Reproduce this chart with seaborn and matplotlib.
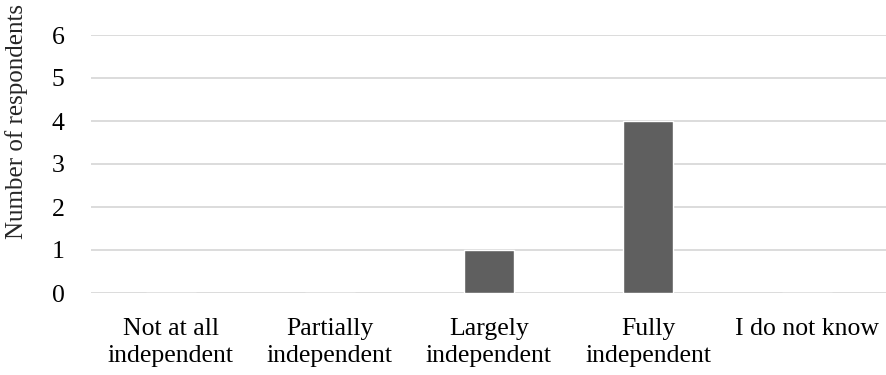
import pandas as pd
import matplotlib
matplotlib.use("Agg")
import matplotlib.pyplot as plt
import seaborn as sns

categories = ["Not at all\nindependent", "Partially\nindependent", "Largely\nindependent",
              "Fully\nindependent", "I do not know"]
respondents = [0, 0, 1, 4, 0]
y_ticks = [0, 1, 2, 3, 4, 5, 6]

df = pd.DataFrame({"category": categories, "count": respondents})

sns.set_style("white")
plt.rcParams["font.family"] = ["Liberation Serif", "DejaVu Serif"]

fig = plt.figure(figsize=(8.87, 3.75), dpi=100)
ax = fig.add_axes([91 / 887, 1 - 293 / 375, 796 / 887, 258 / 375])

sns.barplot(data=df, x="category", y="count", color="#5f5f5f", saturation=1,
            width=0.314, ax=ax, zorder=3)

ax.set_ylim(0, 6)
ax.set_yticks(y_ticks)
ax.grid(axis="y", color="#d9d9d9", linewidth=1.3, zorder=0)
ax.set_axisbelow(True)
for s in ax.spines.values():
    s.set_visible(False)
ax.tick_params(axis="both", length=0, labelsize=18.5, colors="#000000")
ax.tick_params(axis="y", pad=19)
ax.tick_params(axis="x", pad=18)
for lbl in ax.get_xticklabels():
    lbl.set_linespacing(1.3)

ax.set_xlabel("")
ax.set_ylabel("Number of respondents", fontsize=18)
ax.yaxis.set_label_coords(-0.079, 0.663)

fig.savefig("out.png", dpi=100)
